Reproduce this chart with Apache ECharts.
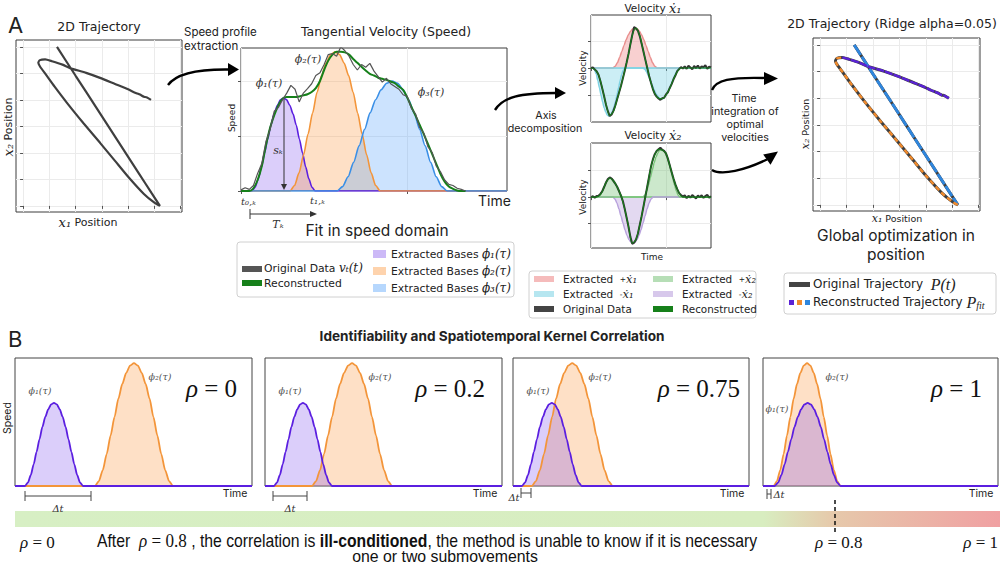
<!DOCTYPE html>
<html><head><meta charset="utf-8">
<script src="https://cdn.jsdelivr.net/npm/echarts@6.0.0/dist/echarts.min.js"></script>
<style>html,body{margin:0;padding:0;background:#fff}#c{width:1000px;height:567px}</style>
</head><body><div id="c"></div>
<script>
// ---------------- DATA ----------------
// 2D trajectory (x1, x2 positions)
const trajX = [1.29,2.0,2.8,3.6,4.4,4.9,5.21,5.0,4.6,4.0,3.5,2.93,2.3,1.67,1.2,0.85,0.65,0.58,0.64,0.84,1.1,1.5,1.79,2.4,2.93,3.5,3.95,4.2,4.35,4.45,4.6,4.7,4.87];
const trajY = [6.0,4.91,3.69,2.46,1.24,0.47,0.0,0.12,0.45,1.1,1.7,2.38,3.12,3.89,4.5,4.98,5.25,5.4,5.5,5.53,5.46,5.33,5.2,5.02,4.83,4.6,4.42,4.3,4.24,4.2,4.12,4.1,4.0];
const segBlueEnd = 6, segOrangeEnd = 19;   // indices splitting reconstructed segments

// Speed profile (time grid step 0.025 from 0)
const speedStep = 0.025;
const speedRaw = [0.02,0.06,0.03,0.1,0.32,0.5,0.9,1.12,1.45,1.52,1.66,1.78,1.92,1.85,1.62,1.78,1.86,1.95,2.1,2.15,2.3,2.48,2.5,2.45,2.62,2.55,2.45,2.3,2.2,2.3,2.25,2.32,2.18,2.08,1.98,2.05,1.95,1.9,1.85,1.75,1.72,1.5,1.4,1.15,1.05,0.8,0.7,0.45,0.35,0.2,0.12,0.1,0.05,0.03,0];
const speedFit = [0,0,0,0.05,0.2,0.45,0.83,1.15,1.38,1.56,1.68,1.71,1.71,1.71,1.72,1.74,1.76,1.8,1.87,2.0,2.2,2.37,2.48,2.53,2.53,2.52,2.48,2.4,2.33,2.26,2.19,2.13,2.1,2.06,2.04,2.02,1.99,1.96,1.9,1.84,1.7,1.53,1.37,1.2,1.03,0.85,0.67,0.49,0.31,0.17,0.08,0.04,0.01,0,0];
// normalized bell-shaped submovement profile
const bellProfile = [0,0.04,0.13,0.26,0.41,0.56,0.71,0.83,0.92,0.98,1,0.98,0.92,0.83,0.71,0.56,0.41,0.26,0.13,0.04,0];
const speedBaseStart = [0.066, 0.295, 0.578];
const speedBaseEnd   = [0.446, 0.837, 1.24];
const speedBasePeak  = [1.69, 2.53, 2.0];

// Axis velocities (raw step 0.025, fit step 0.05)
const velRawStep = 0.025, velFitStep = 0.05;
const x1Raw = [0,0.02,-0.06,-0.12,-0.25,-0.48,-0.76,-1.05,-1.36,-1.6,-1.78,-1.72,-1.58,-1.38,-1.14,-0.9,-0.66,-0.38,-0.1,0.2,0.52,0.88,1.22,1.52,1.46,1.38,1.18,0.9,0.6,0.3,0.0,-0.3,-0.55,-0.78,-0.96,-1.06,-1.13,-1.18,-1.12,-1.1,-0.98,-0.9,-0.74,-0.6,-0.42,-0.28,-0.12,-0.04,0.03,-0.02,0.06,-0.03,0.08,0.02,-0.05,0.07,0.0,0.09,-0.02,0.06,0.03,0.1,-0.03,0.05,0.02];
const x1Fit = [0,-0.05,-0.25,-0.75,-1.35,-1.76,-1.6,-1.15,-0.65,-0.1,0.5,1.2,1.48,1.2,0.6,0.0,-0.55,-0.95,-1.12,-1.14,-1.0,-0.75,-0.42,-0.14,0,0,0,0,0,0,0,0,0];
const x2Raw = [0,0.03,-0.02,0.04,0.05,0.12,0.22,0.38,0.55,0.68,0.74,0.7,0.6,0.5,0.38,0.22,0.05,-0.15,-0.45,-0.78,-1.12,-1.5,-1.76,-1.72,-1.6,-1.38,-1.05,-0.72,-0.35,0.02,0.4,0.78,1.15,1.42,1.62,1.74,1.8,1.86,1.78,1.74,1.65,1.45,1.2,0.95,0.7,0.48,0.3,0.15,0.08,0.02,0.07,-0.04,0.05,-0.02,0.08,0.01,-0.05,0.06,0.0,0.07,-0.03,0.04,0.09,-0.02,0.03];
const x2Fit = [0,0,0.03,0.2,0.55,0.72,0.6,0.38,0.05,-0.45,-1.1,-1.74,-1.6,-1.05,-0.35,0.4,1.15,1.6,1.8,1.78,1.65,1.2,0.7,0.3,0.05,0,0,0,0,0,0,0,0];
const x1BaseStart = [0.293, 0.027, 0.693];
const x1BaseEnd   = [0.88, 0.453, 1.187];
const x1BasePeak  = [1.48, -1.78, -1.15];
const x2BaseStart = [0.093, 0.293, 0.693];
const x2BaseEnd   = [0.427, 0.827, 1.187];
const x2BasePeak  = [0.72, -1.74, 1.81];

// Panel B: two kernels per correlation level
const rhoValues = ['0', '0.2', '0.75', '1'];
const kernel1Start = [0.084, 0.076, 0.076, 0.10];
const kernel1End   = [0.574, 0.565, 0.582, 0.66];
const kernel2Start = [0.675, 0.397, 0.16, 0.09];
const kernel2End   = [1.333, 1.072, 0.844, 0.66];
const kernel1Peak = 0.65, kernel2Peak = 0.96;

// ---------------- STYLE ----------------
const SANS = "'DejaVu Sans', sans-serif";
const UI = "Inter, 'Noto Sans', sans-serif";
const SERIF = "'DejaVu Serif', serif";
const LSERIF = "'Liberation Serif', 'DejaVu Serif', serif";
const NARROW = "'Liberation Sans Narrow', 'Liberation Sans', sans-serif";
const C = {
  purple:'#5b1fe0', purpleFill:'rgba(120,70,235,0.38)',
  orange:'#f3953a', orangeFill:'rgba(253,150,60,0.42)',
  blue:'#3a8fe6', blueFill:'rgba(80,160,250,0.42)',
  green:'#16801a', gray:'#4d4d4d',
  red:'#e9908f', redFill:'rgba(235,120,120,0.5)',
  cyan:'#7dd3e3', cyanFill:'rgba(110,205,225,0.5)',
  gfill:'rgba(110,190,110,0.5)', gline:'#7ac57a',
  lav:'rgba(175,145,215,0.5)', lavLine:'#b9a3dd'
};

const chart = echarts.init(document.getElementById('c'), null, {renderer:'svg', width:1000, height:567});

const grids = [], xAxes = [], yAxes = [], series = [];
function addGrid(box, xr, yr, xt, yt, split, border) {
  const gi = grids.length;
  grids.push({left:box[0], top:box[1], width:box[2], height:box[3], show:true, borderColor: border||'#3c3c3c', borderWidth:1, backgroundColor:'transparent', containLabel:false});
  const tick = (vals) => ({show: !!vals, customValues: vals || undefined, length:3, inside:false, lineStyle:{color:'#555', width:1}});
  xAxes.push({gridIndex:gi, type:'value', min:xr[0], max:xr[1], axisLine:{show:false}, axisLabel:{show:false}, axisTick:tick(xt), splitLine:{show:!!split, lineStyle:{color:'#ebebeb', width:1}}});
  yAxes.push({gridIndex:gi, type:'value', min:yr[0], max:yr[1], axisLine:{show:false}, axisLabel:{show:false}, axisTick:tick(yt), splitLine:{show:!!split, lineStyle:{color:'#ebebeb', width:1}}});
  return gi;
}
function line(gi, data, color, width, extra) {
  return Object.assign({type:'line', xAxisIndex:gi, yAxisIndex:gi, data, symbol:'none', silent:true, lineStyle:{color, width}}, extra||{});
}
function bell(gi, start, end, peak, xmax, color, fill, width) {
  const n = bellProfile.length - 1;
  const d = [[0,0]];
  bellProfile.forEach((v,i) => d.push([start + (end-start)*i/n, peak*v]));
  d.push([xmax, 0]);
  return line(gi, d, color, width||1.6, {smooth:0.25, smoothMonotone:'x', areaStyle:{color:fill, origin:0}});
}
const series2 = (step, arr) => arr.map((v,i) => [+(i*step).toFixed(4), v]);

// ---- Panel A grids ----
const trajXR = [-0.27, 6.05], trajYR = [-0.23, 6.26], trajTicks = [0,1,2,3,4,5,6];
const gTL = addGrid([16,40,166,172], trajXR, trajYR, trajTicks, trajTicks, true);
const gSp = addGrid([241,48,266,143], [0,1.6], [0,2.6], [0,1], [0,1,2], true);
const gV1 = addGrid([591,15,120,107], [0,1.6], [-2.0,1.96], [0,1], [-1,0,1], true);
const gV2 = addGrid([591,143,120,105], [0,1.6], [-1.92,2.04], [0,1], [-1,0,1], true);
const gTR = addGrid([813,38,167,173], trajXR, trajYR, trajTicks, trajTicks, true);

const traj = trajX.map((x,i) => [x, trajY[i]]);
series.push(line(gTL, traj, '#3f3f3f', 2.2, {smooth:0.2}));

// speed
const spCols = [[C.purple,C.purpleFill],[C.orange,C.orangeFill],[C.blue,C.blueFill]];
speedBaseStart.forEach((s,i) => series.push(bell(gSp, s, speedBaseEnd[i], speedBasePeak[i], 1.6, spCols[i][0], spCols[i][1], 1.6)));
series.push(line(gSp, series2(speedStep, speedFit), C.green, 2, {smooth:0.3}));
series.push(line(gSp, series2(speedStep, speedRaw), '#555', 1.2));

// velocity x1
const v1Cols = [[C.red,C.redFill],[C.cyan,C.cyanFill],[C.cyan,C.cyanFill]];
x1BaseStart.forEach((s,i) => series.push(bell(gV1, s, x1BaseEnd[i], x1BasePeak[i], 1.6, v1Cols[i][0], v1Cols[i][1], 1.5)));
series.push(line(gV1, series2(velRawStep, x1Raw), '#333', 2));
series.push(line(gV1, series2(velFitStep, x1Fit), C.green, 1.1, {smooth:0.3}));
// velocity x2
const v2Cols = [[C.gline,C.gfill],[C.lavLine,C.lav],[C.gline,C.gfill]];
x2BaseStart.forEach((s,i) => series.push(bell(gV2, s, x2BaseEnd[i], x2BasePeak[i], 1.6, v2Cols[i][0], v2Cols[i][1], 1.5)));
series.push(line(gV2, series2(velRawStep, x2Raw), '#333', 2));
series.push(line(gV2, series2(velFitStep, x2Fit), C.green, 1.1, {smooth:0.3}));

// reconstructed trajectory
series.push(line(gTR, traj, '#3f3f3f', 3, {smooth:0.2}));
series.push(line(gTR, traj.slice(0, segBlueEnd+1), C.blue, 2.6, {smooth:0.2, lineStyle:{color:'#2f86dd', width:2.8, type:[12,2]}}));
series.push(line(gTR, traj.slice(segBlueEnd, segOrangeEnd+1), C.orange, 2.4, {smooth:0.2, lineStyle:{color:'#f08a2c', width:2.4, type:[5,3]}}));
series.push(line(gTR, traj.slice(segOrangeEnd), '#5a22d6', 2.4, {smooth:0.2, lineStyle:{color:'#5a22d6', width:2.4, type:[8,1]}}));

// ---- Panel B grids ----
const bLefts = [15, 265, 513, 763], bWidths = [237, 237, 236, 235];
bLefts.forEach((l,k) => {
  const g = addGrid([l,358,bWidths[k],128], [0,2.0], [0,1.0], null, null, false, '#444');
  series.push(bell(g, kernel2Start[k], kernel2End[k], kernel2Peak, 2.0, C.orange, C.orangeFill, 1.8));
  series.push(bell(g, kernel1Start[k], kernel1End[k], kernel1Peak, 2.0, C.purple, C.purpleFill, 1.8));
});

// ---------------- GRAPHICS / TEXT ----------------
const G = [];
function T(x, y, text, o) {
  o = o || {};
  const st = {text, fill:o.color||'#222', fontSize:o.size||12, fontFamily:o.family||UI, fontWeight:o.weight||'normal', fontStyle:o.style||'normal',
    align:o.align||'left', textAlign:o.align||'left', verticalAlign:o.va||'middle', textVerticalAlign:o.va||'middle'};
  if (o.rich) st.rich = o.rich;
  G.push({type:'text', x, y, rotation:o.rot||0, scaleX:o.sx||1, z:100, silent:true, style:st});
}
function L(x1,y1,x2,y2,o) { o=o||{}; G.push({type:'line', z:100, silent:true, shape:{x1,y1,x2,y2}, style:{stroke:o.color||'#222', lineWidth:o.w||1, lineDash:o.dash||null}}); }
function P(points, color) { G.push({type:'polygon', z:100, silent:true, shape:{points}, style:{fill:color||'#000'}}); }
function B(x1,y1,c1x,c1y,c2x,c2y,x2,y2,w) { G.push({type:'bezierCurve', z:100, silent:true, shape:{x1,y1,cpx1:c1x,cpy1:c1y,cpx2:c2x,cpy2:c2y,x2,y2}, style:{stroke:'#000', lineWidth:w||2.2, fill:null}}); }
function R(x,y,w,h,fill,stroke,r) { G.push({type:'rect', z:90, silent:true, shape:{x,y,width:w,height:h,r:r||0}, style:{fill:fill||'none', stroke:stroke||null, lineWidth:1}}); }
const m = (s, sz, col) => ({fontFamily:SERIF, fontStyle:'italic', fontSize:sz, fill:col||'#222', color:col||'#222'});
const s = (sz, col, fam) => ({fontFamily:fam||SANS, fontSize:sz, fill:col||'#222', color:col||'#222'});

// Panel labels
T(8, 25, 'A', {size:22, family:UI});
T(8, 339, 'B', {size:22, family:UI});

// Left trajectory
T(99, 26, '2D Trajectory', {size:12.5, family:SANS, align:'center'});
T(88, 222, '{m|x₁}{s| Position}', {align:'center', rich:{m:m(0,13), s:s(11)}});
T(8, 127, '{m|x₂}{s| Position}', {align:'center', rot:Math.PI/2, rich:{m:m(0,13), s:s(11)}});

// speed extraction arrow
T(184, 32, 'Speed profile', {size:11.5, family:UI});
T(184, 46, 'extraction', {size:11.5, family:UI});
B(168,85, 176,74, 195,69, 229,69.5, 2.4);
P([[228,63],[239,69.5],[228,76]]);

// speed plot
T(386, 31, 'Tangential Velocity (Speed)', {size:12.5, family:SANS, align:'center'});
T(232, 118, 'Speed', {size:9, family:SANS, align:'center', rot:Math.PI/2});
T(269, 83, 'ϕ₁(τ)', {size:11, family:SERIF, style:'italic', align:'center', color:'#333'});
T(308, 59, 'ϕ₂(τ)', {size:11, family:SERIF, style:'italic', align:'center', color:'#333'});
T(431, 92, 'ϕ₃(τ)', {size:11, family:SERIF, style:'italic', align:'center', color:'#333'});
L(284, 99, 284, 185, {color:'#333', w:1});
P([[281,184],[284,190],[287,184]], '#333');
T(278, 150, 'sₖ', {size:11, family:SERIF, style:'italic', align:'center', color:'#333'});
T(241, 201, 't₀,ₖ', {size:10, family:SERIF, style:'italic', color:'#333'});
T(310, 200, 't₁,ₖ', {size:10, family:SERIF, style:'italic', color:'#333'});
L(250, 209, 250, 219, {color:'#333'});
L(250, 214, 312, 214, {color:'#333'});
P([[310,211],[317,214],[310,217]], '#333');
T(278, 224, 'Tₖ', {size:11, family:SERIF, style:'italic', align:'center', color:'#333'});
T(478, 200, 'Time', {size:14, family:UI});
T(377, 230, 'Fit in speed domain', {size:15.5, family:UI, align:'center'});

// legend 1
R(237, 242, 277, 55, '#fff', '#d0d0d0', 3);
R(242, 266, 20, 6, '#555');
T(264, 268, '{s|Original Data }{m|vₜ(t)}', {rich:{s:s(10.8), m:m(0,12)}});
R(242, 280, 20, 6, C.green);
T(264, 283, 'Reconstructed', {size:10.8, family:SANS});
[[C.purpleFill,254,'₁'],[C.orangeFill,271,'₂'],[C.blueFill,288,'₃']].forEach(([f,y,sub]) => {
  R(373, y-4, 13, 8, f);
  T(391, y, '{s|Extracted Bases }{m|ϕ' + sub + '(τ)}', {rich:{s:s(10.8), m:m(0,12)}});
});

// axis decomposition arrow
T(546, 115, 'Axis', {size:10.7, family:UI, align:'center'});
T(545, 128, 'decomposition', {size:10.7, family:UI, align:'center'});
B(495,110, 503,97, 520,93, 556,93, 2.4);
P([[555,87],[566,93],[555,99]]);

// velocity plots
T(653, 8, '{s|Velocity }{m|ẋ₁}', {align:'center', rich:{s:s(10.5), m:m(0,13)}});
T(583, 68, 'Velocity', {size:9, family:SANS, align:'center', rot:Math.PI/2});
T(653, 135, '{s|Velocity }{m|ẋ₂}', {align:'center', rich:{s:s(10.5), m:m(0,13)}});
T(583, 197, 'Velocity', {size:9, family:SANS, align:'center', rot:Math.PI/2});
T(652, 257, 'Time', {size:9, family:SANS, align:'center'});

// legend 2
R(529, 271, 227, 47, '#fff', '#d0d0d0', 3);
const lg2 = [
  [534,279,C.redFill,'{s|Extracted  }{p|+}{m|ẋ₁}'],
  [534,294,C.cyanFill,'{s|Extracted  }{p|-}{m|ẋ₁}'],
  [534,309,'#444','{s|Original Data}'],
  [653,279,C.gfill,'{s|Extracted  }{p|+}{m|ẋ₂}'],
  [653,294,C.lav,'{s|Extracted  }{p|-}{m|ẋ₂}'],
  [653,309,C.green,'{s|Reconstructed}']
];
lg2.forEach(([x,y,f,t]) => {
  R(x, y-3, 20, 6, f);
  T(x+29, y, t, {rich:{s:s(10.4), p:s(7.5), m:m(0,11.5)}});
});

// time integration arrows
T(744, 98, 'Time', {size:10.7, family:UI, align:'center'});
T(745, 111, 'integration of', {size:10.7, family:UI, align:'center'});
T(745, 124, 'optimal', {size:10.7, family:UI, align:'center'});
T(745, 137, 'velocities', {size:10.7, family:UI, align:'center'});
B(712,90, 716,80, 730,77, 765,78, 2.4);
P([[764,72],[778,78.5],[764,85]]);
B(712,170, 722,176, 745,170, 767,159.5, 2.4);
P([[778,151.5],[770.5,164.8],[763.2,154.6]]);

// right trajectory
T(892, 23, '2D Trajectory (Ridge alpha=0.05)', {size:12.5, family:SANS, align:'center'});
T(805, 124, '{m|x₂}{s| Position}', {align:'center', rot:Math.PI/2, rich:{m:m(0,11), s:s(9.5)}});
T(897, 218, '{m|x₁}{s| Position}', {align:'center', rich:{m:m(0,11), s:s(9.5)}});
T(896, 235, 'Global optimization in', {size:15.5, family:UI, align:'center'});
T(896, 254, 'position', {size:15.5, family:UI, align:'center'});
// legend 3
R(784, 273, 212, 41, '#fff', '#d0d0d0', 3);
R(789, 282, 21, 5, '#444');
T(813, 284, '{s|Original Trajectory  }{m|P(t)}', {rich:{s:s(12), m:{fontFamily:LSERIF, fontStyle:'italic', fontSize:16, fill:'#222'}}});
R(789, 300, 5, 5, '#5a22d6'); R(797, 300, 5, 5, '#f08a2c'); R(805, 300, 5, 5, '#2f86dd');
T(813, 302, '{s|Reconstructed Trajectory }{m|P}{sub|fit}', {rich:{s:s(12), m:{fontFamily:LSERIF, fontStyle:'italic', fontSize:16, fill:'#222'}, sub:{fontFamily:LSERIF, fontStyle:'italic', fontSize:10, fill:'#222', padding:[6,0,0,0]}}});

// Panel B texts
T(492, 336, 'Identifiability and Spatiotemporal Kernel Correlation', {size:13.6, weight:'bold', family:UI, align:'center'});
T(7, 418, 'Speed', {size:10.5, family:UI, align:'center', rot:Math.PI/2});
const rhoRight = [237, 485, 740, 982];
const phi1Pos = [[40,390],[290,390],[538,390],[777,408]];
const phi2Pos = [[160,376],[380,376],[600,376],[837,376]];
bLefts.forEach((l,k) => {
  T(rhoRight[k], 388, '{r|ρ}{n| = ' + rhoValues[k] + '}', {align:'right', rich:{r:{fontFamily:LSERIF, fontStyle:'italic', fontSize:25, fill:'#111'}, n:{fontFamily:LSERIF, fontSize:25, fill:'#111'}}});
  T(phi1Pos[k][0], phi1Pos[k][1], 'ϕ₁(τ)', {size:9.5, family:SERIF, style:'italic', align:'center', color:'#555'});
  T(phi2Pos[k][0], phi2Pos[k][1], 'ϕ₂(τ)', {size:9.5, family:SERIF, style:'italic', align:'center', color:'#555'});
  T(l + bWidths[k] - 17, 493, 'Time', {size:10.5, family:UI, align:'center'});
});
// delta t brackets
[[25,91,58,508],[273,307,290,508]].forEach(([a,b,lx,ly]) => {
  L(a,496,b,496,{color:'#444'}); L(a,491,a,501,{color:'#444'}); L(b,491,b,501,{color:'#444'});
  T(lx, ly, 'Δt', {size:10, family:SERIF, style:'italic', align:'center', color:'#333'});
});
L(521,493,531,493,{color:'#444'}); L(521,488,521,498,{color:'#444'}); L(531,488,531,498,{color:'#444'});
T(514, 497, 'Δt', {size:10, family:SERIF, style:'italic', align:'center', color:'#333'});
L(767,494,771,494,{color:'#444'}); L(767,489,767,499,{color:'#444'}); L(771,489,771,499,{color:'#444'});
T(779, 494, 'Δt', {size:10, family:SERIF, style:'italic', align:'center', color:'#333'});

// gradient bar
G.push({type:'rect', z:80, silent:true, shape:{x:15, y:511, width:985, height:16}, style:{fill:{type:'linear', x:0, y:0, x2:1, y2:0, colorStops:[
  {offset:0, color:'#d7efc4'}, {offset:0.76, color:'#d8edc0'}, {offset:0.83, color:'#e6c9ab'}, {offset:1, color:'#f0a0a2'}]}}});
L(835, 500, 835, 532, {color:'#111', w:1.5, dash:[4,3]});
const rhoRich = {r:{fontFamily:LSERIF, fontStyle:'italic', fontSize:17, fill:'#111'}, n:{fontFamily:LSERIF, fontSize:17, fill:'#111'}};
T(20, 542, '{r|ρ}{n| = 0}', {rich:rhoRich});
T(815, 542, '{r|ρ}{n| = 0.8}', {rich:rhoRich});
T(998, 542, '{r|ρ}{n| = 1}', {align:'right', rich:rhoRich});
T(97, 541, '{t|After  }{r|ρ}{n| = 0.8}{t| , the correlation is }{b|ill-conditioned}{t|, the method is unable to know if it is necessary}', {sx:0.9, rich:{
  t:{fontFamily:NARROW, fontSize:17.5, fill:'#111'}, b:{fontFamily:NARROW, fontSize:17.5, fontWeight:'bold', fill:'#111'},
  r:{fontFamily:LSERIF, fontStyle:'italic', fontSize:19, fill:'#111'}, n:{fontFamily:LSERIF, fontSize:19, fill:'#111'}}});
T(445, 556, 'one or two submovements', {size:16.5, sx:0.96, family:NARROW, align:'center', color:'#111'});

chart.setOption({
  animation:false,
  grid:grids, xAxis:xAxes, yAxis:yAxes, series,
  graphic:{elements:G}
});
</script></body></html>
